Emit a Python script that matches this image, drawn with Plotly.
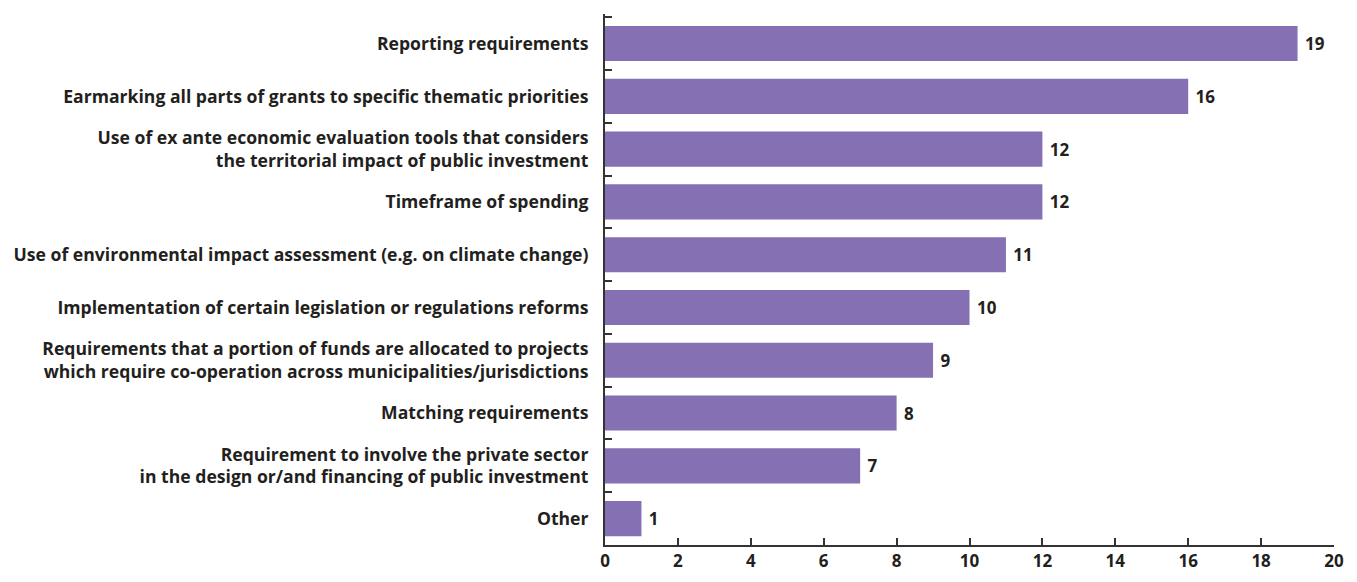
import plotly.graph_objects as go

categories = [
    "Reporting requirements",
    "Earmarking all parts of grants to specific thematic priorities",
    "Use of ex ante economic evaluation tools that considers<br>the territorial impact of public investment",
    "Timeframe of spending",
    "Use of environmental impact assessment (e.g. on climate change)",
    "Implementation of certain legislation or regulations reforms",
    "Requirements that a portion of funds are allocated to projects<br>which require co-operation across municipalities/jurisdictions",
    "Matching requirements",
    "Requirement to involve the private sector<br>in the design or/and financing of public investment",
    "Other",
]
values = [19, 16, 12, 12, 11, 10, 9, 8, 7, 1]
x_ticks = [0, 2, 4, 6, 8, 10, 12, 14, 16, 18, 20]

TXT = "#231f20"
FONT = "Open Sans"
FS = 17.6

fig = go.Figure(go.Bar(
    y=categories,
    x=values,
    orientation="h",
    marker=dict(color="#8470b3", line=dict(width=0)),
    text=["\u00a0" + str(v) for v in values],
    textposition="outside",
    textfont=dict(family=FONT, size=17, color=TXT, weight=700),
    cliponaxis=False,
))

fig.update_layout(
    width=1357, height=582,
    margin=dict(l=605, r=23, t=14, b=37),
    plot_bgcolor="white", paper_bgcolor="white",
    bargap=0.335,
    showlegend=False,
    font=dict(family=FONT, color=TXT),
    uniformtext=dict(minsize=17, mode="show"),
)
fig.update_xaxes(
    range=[0, 20],
    tickvals=x_ticks,
    ticks="inside", ticklen=7, tickwidth=2, tickcolor="#333",
    showline=True, linecolor="#333", linewidth=2,
    showgrid=False, zeroline=False,
    tickfont=dict(family=FONT, size=17, color=TXT, weight=700),
    automargin=False,
)
fig.update_yaxes(
    range=[9.5, -0.56],
    type="category",
    tickson="boundaries",
    ticks="inside", ticklen=7, tickwidth=2, tickcolor="#333",
    showline=True, linecolor="#333", linewidth=2,
    showgrid=False, zeroline=False,
    tickfont=dict(family=FONT, size=FS, color=TXT, weight=700),
    ticklabelstandoff=11,
    automargin=False,
)

fig.write_html(
    "out.html",
    config={"displayModeBar": False},
    post_script="document.body.style.margin='0';",
)
